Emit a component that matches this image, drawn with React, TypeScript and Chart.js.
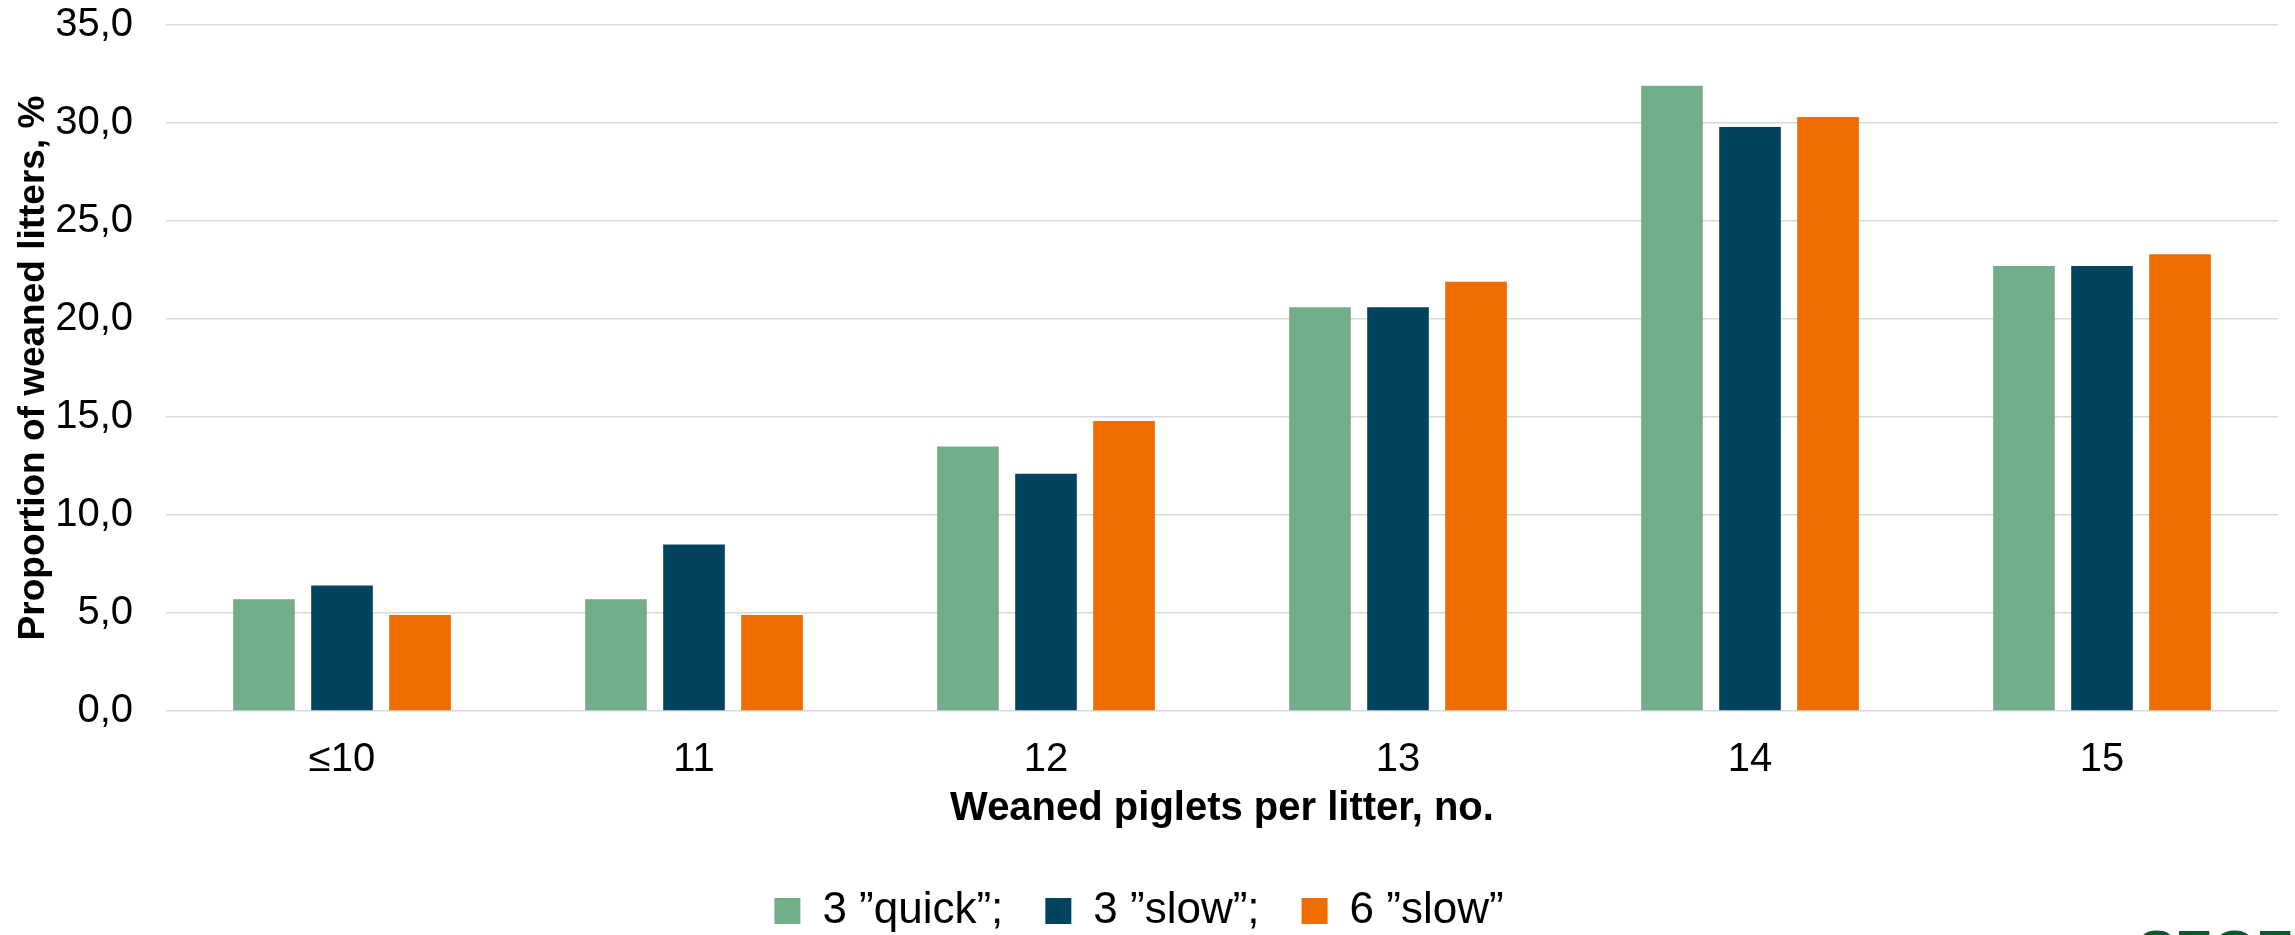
import React, { useEffect, useRef } from 'react';
import { Chart, registerables } from 'chart.js';

Chart.register(...registerables);

// Litter-size classes on the x axis
const categories = ['≤10', '11', '12', '13', '14', '15'];

// Proportion of weaned litters (%) per group
const quick3 = [5.7, 5.7, 13.5, 20.6, 31.9, 22.7];
const slow3 = [6.4, 8.5, 12.1, 20.6, 29.8, 22.7];
const slow6 = [4.9, 4.9, 14.8, 21.9, 30.3, 23.3];

const seriesLabels = ['3 ”quick”;', '3 ”slow”;', '6 ”slow”'];
const seriesColors = ['#73ae8a', '#02445e', '#ee6c00'];

const yMin = 0;
const yMax = 35;
const yStep = 5;

const xTitle = 'Weaned piglets per litter, no.';
const yTitle = 'Proportion of weaned litters, %';
const logoText = 'SEGES';

const FONT = '"Liberation Sans", Arial, sans-serif';

// Company logo text partly visible in the lower-right corner
const logoPlugin = {
  id: 'logoText',
  afterDraw(chart: any) {
    const { ctx, width, height } = chart;
    ctx.save();
    ctx.font = `bold 56px ${FONT}`;
    ctx.fillStyle = '#0b5a2b';
    ctx.textBaseline = 'alphabetic';
    ctx.textAlign = 'left';
    ctx.fillText(logoText, width - 157, height + 34);
    ctx.restore();
  },
};

export default function App() {
  const canvasRef = useRef<HTMLCanvasElement | null>(null);

  useEffect(() => {
    if (!canvasRef.current) return;
    const seriesValues = [quick3, slow3, slow6];
    const chart = new Chart(canvasRef.current, {
      type: 'bar',
      data: {
        labels: categories,
        datasets: seriesValues.map((values, i) => ({
          label: seriesLabels[i],
          data: values,
          backgroundColor: seriesColors[i],
          borderWidth: 0,
          categoryPercentage: 0.665,
          barPercentage: 0.79,
        })),
      },
      options: {
        responsive: false,
        animation: false,
        devicePixelRatio: 1,
        layout: { padding: { top: 25, right: 17, bottom: -8, left: 0 } },
        plugins: {
          legend: {
            display: true,
            position: 'bottom',
            labels: {
              boxWidth: 26,
              boxHeight: 26,
              padding: 42,
              color: '#000000',
              font: { family: FONT, size: 44 },
            },
          },
          tooltip: { enabled: false },
        },
        scales: {
          x: {
            grid: { display: false },
            border: { display: false },
            ticks: {
              color: '#000000',
              padding: 17,
              font: { family: FONT, size: 40 },
            },
            title: {
              display: true,
              text: xTitle,
              color: '#000000',
              font: { family: FONT, size: 40, weight: 'bold' },
              padding: { top: 0, bottom: 14 },
            },
            afterFit(scale: any) {
              scale.height = 136;
            },
          },
          y: {
            min: yMin,
            max: yMax,
            grid: {
              color: '#d9d9d9',
              lineWidth: 1.5,
              drawTicks: true,
              tickLength: 33,
              tickColor: 'rgba(0,0,0,0)',
            },
            border: { display: false },
            ticks: {
              stepSize: yStep,
              color: '#000000',
              padding: 0,
              font: { family: FONT, size: 40 },
              callback: (v: any) => Number(v).toFixed(1).replace('.', ','),
            },
            title: {
              display: true,
              text: yTitle,
              color: '#000000',
              font: { family: FONT, size: 37, weight: 'bold' },
              padding: { top: 12, bottom: 0 },
            },
            afterFit(scale: any) {
              scale.width = 166;
            },
          },
        },
      },
      plugins: [logoPlugin],
    });
    return () => chart.destroy();
  }, []);

  return (
    <div style={{ position: 'fixed', left: 0, top: 0, width: 2295, height: 935, background: '#ffffff' }}>
      <canvas ref={canvasRef} width={2295} height={935} style={{ display: 'block' }} />
    </div>
  );
}
